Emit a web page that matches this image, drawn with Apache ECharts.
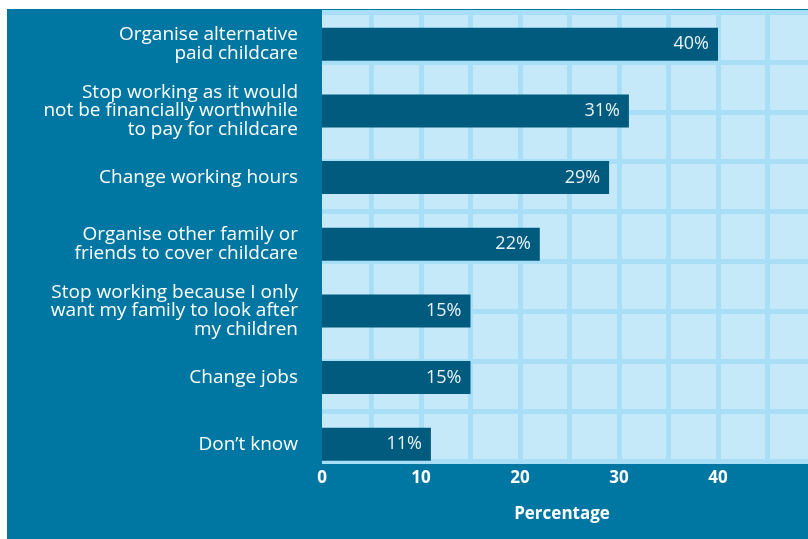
<!DOCTYPE html>
<html>
<head>
<meta charset="utf-8">
<script src="https://cdn.jsdelivr.net/npm/echarts@6/dist/echarts.min.js"></script>
<style>
html,body{margin:0;padding:0;background:#fff;}
#wrap{position:relative;width:808px;height:539px;background:#fff;overflow:hidden;}
#panel{position:absolute;left:7px;top:9px;right:0;bottom:0;background:#0077a2;}
#chart{position:absolute;left:0;top:0;width:808px;height:539px;}
</style>
</head>
<body>
<div id="wrap"><div id="panel"></div><div id="chart"></div></div>
<script>
const categories = [
  'Organise alternative\npaid childcare',
  'Stop working as it would\nnot be financially worthwhile\nto pay for childcare',
  'Change working hours',
  'Organise other family or\nfriends to cover childcare',
  'Stop working because I only\nwant my family to look after\nmy children',
  'Change jobs',
  'Don\u2019t know'
];
const values = [40, 31, 29, 22, 15, 15, 11];
const xTickLabels = [0, 10, 20, 30, 40];
const xAxisName = 'Percentage';

const FONT = '"Open Sans", "Liberation Sans", sans-serif';
const chart = echarts.init(document.getElementById('chart'), null, {renderer: 'canvas'});
chart.setOption({
  backgroundColor: 'transparent',
  animation: false,
  grid: [
    {left: 322, top: 12, width: 495, height: 449, show: true, backgroundColor: '#c6e9f9', borderWidth: 0,
     containLabel: false, outerBoundsMode: 'none'},
    {left: 322, top: 11, width: 495, height: 466.5, show: false, containLabel: false, outerBoundsMode: 'none'}
  ],
  xAxis: [
    {
      type: 'value', gridIndex: 0, min: 0, max: 50, interval: 5,
      axisLine: {show: false}, axisTick: {show: false},
      splitLine: {show: true, showMinLine: false, lineStyle: {color: '#a8dff7', width: 5}},
      axisLabel: {
        show: true, margin: 9, color: '#ffffff', fontFamily: FONT, fontWeight: 'bold', fontSize: 17,
        formatter: function (v) { return xTickLabels.indexOf(v) >= 0 ? String(v) : ''; }
      },
      name: xAxisName, nameLocation: 'middle', nameGap: 45,
      nameTextStyle: {color: '#ffffff', fontFamily: FONT, fontWeight: 'bold', fontSize: 17, padding: [0, 15, 0, 0]}
    },
    {
      type: 'value', gridIndex: 1, min: 0, max: 50,
      axisLine: {show: false}, axisTick: {show: false}, axisLabel: {show: false}, splitLine: {show: false}
    }
  ],
  yAxis: [
    {
      type: 'value', gridIndex: 0, min: 0, max: 9, interval: 1,
      axisLine: {show: false}, axisTick: {show: false}, axisLabel: {show: false},
      splitLine: {show: true, lineStyle: {color: '#a8dff7', width: 5}}
    },
    {
      type: 'category', gridIndex: 1, data: categories, inverse: true,
      axisLine: {show: false}, axisTick: {show: false}, splitLine: {show: false},
      axisLabel: {
        margin: 24, color: '#ffffff', fontFamily: FONT, fontSize: 19, lineHeight: 18.5, align: 'right'
      }
    }
  ],
  series: [{
    type: 'bar', xAxisIndex: 1, yAxisIndex: 1, data: values, barWidth: 33,
    itemStyle: {color: '#005b7f'},
    label: {
      show: true, position: 'insideRight', distance: 9, color: '#e8f3f8',
      fontFamily: FONT, fontSize: 18, formatter: '{c}%'
    }
  }]
});
</script>
</body>
</html>
